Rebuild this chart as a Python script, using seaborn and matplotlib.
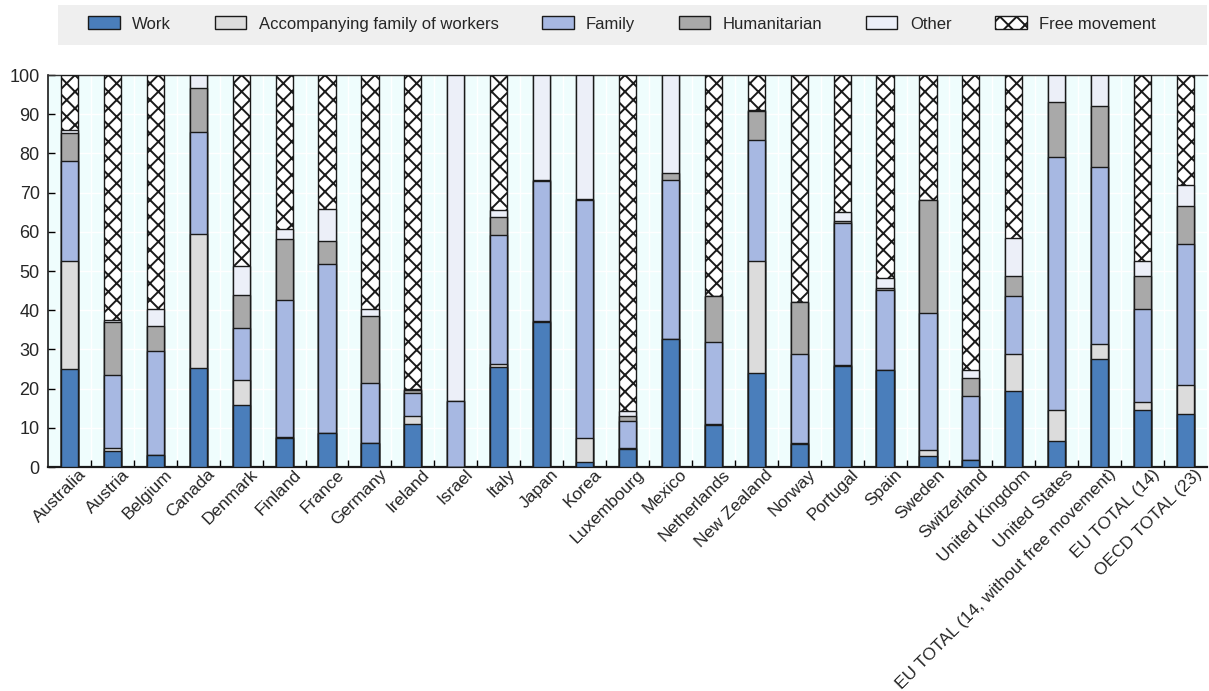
import matplotlib
matplotlib.use('Agg')
import matplotlib.pyplot as plt
import matplotlib.patches as mpatches
import matplotlib.transforms as mtransforms
import numpy as np
import pandas as pd
import seaborn as sns

# ─────────────────────────────────────────────
# 데이터 (%, 허가 유형별 구성)
# ─────────────────────────────────────────────
countries = [
    'Australia', 'Austria', 'Belgium', 'Canada', 'Denmark', 'Finland', 'France',
    'Germany', 'Ireland', 'Israel', 'Italy', 'Japan', 'Korea', 'Luxembourg',
    'Mexico', 'Netherlands', 'New Zealand', 'Norway', 'Portugal', 'Spain',
    'Sweden', 'Switzerland', 'United Kingdom', 'United States',
    'EU TOTAL (14, without free movement)', 'EU TOTAL (14)', 'OECD TOTAL (23)',
]
work = [25.0, 4.0, 3.1, 25.2, 15.7, 7.4, 8.6, 6.0, 11.0, 0.0, 25.4, 37.1, 1.3,
        4.7, 32.6, 10.8, 24.0, 5.9, 25.8, 24.7, 2.9, 1.7, 19.3, 6.6, 27.5, 14.6, 13.6]
accompanying = [27.6, 0.9, 0.0, 34.3, 6.6, 0.2, 0.1, 0.1, 1.9, 0.0, 0.9, 0.1, 6.1,
                0.2, 0.1, 0.1, 28.5, 0.1, 0.1, 0.1, 1.5, 0.2, 9.4, 7.9, 3.8, 1.9, 7.3]
family = [25.5, 18.6, 26.6, 25.9, 13.1, 34.9, 43.0, 15.3, 6.0, 16.8, 33.0, 35.7, 60.8,
          6.8, 40.4, 21.1, 31.0, 22.7, 36.4, 20.3, 35.0, 16.3, 15.0, 64.6, 45.2, 23.7, 36.1]
humanitarian = [7.1, 13.4, 6.3, 11.4, 8.6, 15.7, 5.9, 17.0, 0.7, 0.0, 4.5, 0.3, 0.2,
                1.4, 1.8, 11.5, 7.2, 13.3, 0.5, 0.5, 28.6, 4.5, 5.1, 14.1, 15.7, 8.5, 9.5]
other = [0.7, 0.5, 4.3, 3.2, 7.4, 2.6, 8.3, 1.9, 0.3, 83.2, 1.7, 26.8, 31.6,
         1.1, 25.1, 0.1, 0.3, 0.1, 2.3, 2.5, 0.1, 2.0, 9.5, 6.8, 7.8, 3.8, 5.4]
free_movement = [14.1, 62.6, 59.7, 0.0, 48.6, 39.2, 34.1, 59.7, 80.1, 0.0, 34.5, 0.0, 0.0,
                 85.8, 0.0, 56.4, 9.0, 57.9, 34.9, 51.9, 31.9, 75.3, 41.7, 0.0, 0.0, 47.5, 28.1]

series_names = ['Work', 'Accompanying family of workers', 'Family',
                'Humanitarian', 'Other', 'Free movement']
series_vals = [work, accompanying, family, humanitarian, other, free_movement]
colors = ['#4a7ebb', '#dcdcdc', '#a7b8e2', '#a9a9a9', '#eceff8', '#ffffff']
hatches = ['', '', '', '', '', 'xx']

df = pd.DataFrame(dict(zip(series_names, series_vals)), index=countries)
cum = df.cumsum(axis=1)

# ─────────────────────────────────────────────
# 스타일
# ─────────────────────────────────────────────
sns.set_style('white')
plt.rcParams['font.family'] = ['Liberation Sans', 'DejaVu Sans']
plt.rcParams['hatch.linewidth'] = 1.4
plt.rcParams['hatch.color'] = '#262626'

fig = plt.figure(figsize=(12.09, 6.91), dpi=100)
ax = fig.add_axes([48 / 1209, 224 / 691, 1159 / 1209, 392 / 691])
ax.set_facecolor('#effdfd')

# 누적 막대: 위쪽 누적값부터 그려서 아래 계열이 덮도록
for name, color, hatch in reversed(list(zip(series_names, colors, hatches))):
    sub = pd.DataFrame({'country': countries, 'value': cum[name].values})
    sns.barplot(data=sub, x='country', y='value', color=color, width=0.4,
                edgecolor='#1a1a1a', linewidth=1.0, hatch=hatch or None,
                errorbar=None, saturation=1, ax=ax, zorder=3)

ax.set_xlim(-0.5, len(countries) - 0.5)
ax.set_ylim(0, 100)
ax.set_yticks(range(0, 101, 10))
ax.set_xlabel('')
ax.set_ylabel('')

# 흰색 격자선
ax.yaxis.grid(True, color='white', linewidth=1.0, zorder=0)
ax.set_xticks(np.arange(len(countries) - 1) + 0.5, minor=True)
ax.xaxis.grid(True, which='minor', color='white', linewidth=1.0, zorder=0)
ax.set_axisbelow(True)

ax.tick_params(axis='y', direction='in', length=5, width=1, color='black',
               labelsize=13, pad=6, left=True)
ax.tick_params(axis='x', which='major', length=0, labelsize=12.5, pad=2)
ax.tick_params(axis='x', which='minor', direction='in', length=5, width=1,
               color='black', bottom=True)
ax.set_xticks(range(len(countries)))
ax.set_xticklabels(countries, rotation=45, ha='right', rotation_mode='anchor')
shift = mtransforms.ScaledTranslation(0.09, 0.03, fig.dpi_scale_trans)
for lbl in ax.get_xticklabels():
    lbl.set_transform(lbl.get_transform() + shift)

for side in ['left', 'bottom', 'top']:
    ax.spines[side].set_visible(True)
    ax.spines[side].set_color('#1a1a1a')
ax.spines['bottom'].set_linewidth(1.6)
ax.spines['left'].set_linewidth(1.2)
ax.spines['top'].set_linewidth(1.0)
ax.spines['top'].set_color('#333333')
ax.spines['right'].set_visible(False)

# ─────────────────────────────────────────────
# 범례 (회색 박스)
# ─────────────────────────────────────────────
fig.patches.append(mpatches.Rectangle((58 / 1209, 1 - 45 / 691), 1149 / 1209, 40 / 691,
                                      transform=fig.transFigure, facecolor='#efefef',
                                      edgecolor='none', zorder=0))
handles = [mpatches.Patch(facecolor=c, edgecolor='#1a1a1a', hatch=h or None, linewidth=1.0)
           for c, h in zip(colors, hatches)]
fig.legend(handles, series_names, loc='center', ncol=6, frameon=False,
           bbox_to_anchor=(622 / 1209, 1 - 24 / 691), fontsize=12,
           handlelength=1.9, handleheight=0.8, columnspacing=2.6, handletextpad=0.75)

plt.savefig('out.png', dpi=100)
